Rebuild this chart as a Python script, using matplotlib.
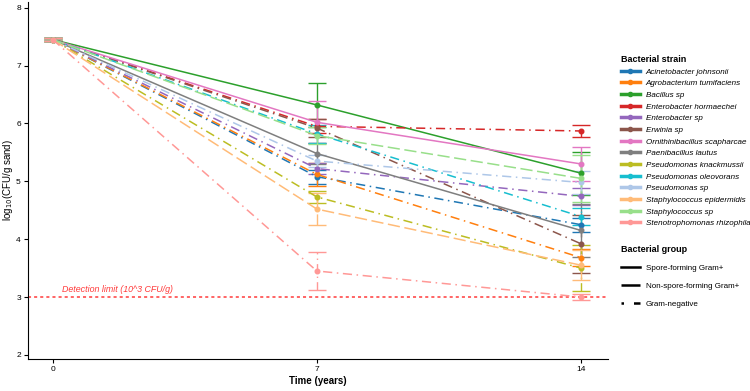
import numpy as np
import matplotlib.pyplot as plt
from matplotlib.lines import Line2D

plt.rcParams['font.family'] = ['Liberation Sans', 'DejaVu Sans']

# time points (years)
years = [0, 7, 14]

strains = ["Acinetobacter johnsonii", "Agrobacterium tumifaciens", "Bacillus sp",
           "Enterobacter hormaechei", "Enterobacter sp", "Erwinia sp",
           "Ornithinibacillus scapharcae", "Paenibacillus lautus",
           "Pseudomonas knackmussii", "Pseudomonas oleovorans", "Pseudomonas sp",
           "Staphylococcus epidermidis", "Staphylococcus sp", "Stenotrophomonas rhizophila"]

# bacterial group of each strain
groups = ["neg", "neg", "spore", "neg", "neg", "neg", "spore", "spore",
          "neg", "neg", "neg", "nonspore", "nonspore", "neg"]

# mean log10 CFU/g sand at 0, 7, 14 years
mean_0 = [7.45] * 14
mean_7 = [5.08, 5.12, 6.32, 5.95, 5.22, 5.92, 6.02, 5.48, 4.73, 5.82, 5.35, 4.52, 5.79, 3.45]
mean_14 = [4.25, 3.68, 5.14, 5.87, 4.74, 3.92, 5.30, 4.15, 3.50, 4.39, 4.98, 3.55, 5.05, 3.00]

# standard deviations
sd_0 = [0.02] * 14
sd_7 = [0.12, 0.20, 0.38, 0.12, 0.10, 0.15, 0.36, 0.18, 0.10, 0.15, 0.10, 0.27, 0.15, 0.32]
sd_14 = [0.12, 0.15, 0.37, 0.10, 0.15, 0.50, 0.30, 0.45, 0.40, 0.15, 0.20, 0.26, 0.40, 0.05]

colors = ["#1f77b4", "#ff7f0e", "#2ca02c", "#d62728", "#9467bd", "#8c564b", "#e377c2",
          "#7f7f7f", "#bcbd22", "#17becf", "#aec7e8", "#ffbb78", "#98df8a", "#ff9896"]

group_order = ["spore", "nonspore", "neg"]
group_names = {"spore": "Spore-forming Gram+", "nonspore": "Non-spore-forming Gram+",
               "neg": "Gram-negative"}
group_styles = {"spore": "-", "nonspore": (0, (8, 3)), "neg": (0, (6, 3, 1, 3))}
legend_styles = {"spore": "-", "nonspore": (0, (8, 3)), "neg": (0, (1, 4, 8, 3))}

fig = plt.figure(figsize=(7.5, 3.91), dpi=100)
ax = fig.add_axes([0.037, 0.082, 0.773, 0.913])

for i, name in enumerate(strains):
    y = [mean_0[i], mean_7[i], mean_14[i]]
    err = [sd_0[i], sd_7[i], sd_14[i]]
    ls = group_styles[groups[i]]
    ax.plot(years, y, color=colors[i], linestyle=ls, linewidth=1.1,
            marker="o", markersize=3.3, zorder=3)
    eb = ax.errorbar(years, y, yerr=err, fmt="none", ecolor=colors[i],
                     elinewidth=1.0, capsize=6.5, capthick=1.0, zorder=2)
    eb[2][0].set_linestyle(ls)

# detection limit
ax.axhline(3, color="#ff3b3b", linestyle=(0, (2, 2)), linewidth=1.1, zorder=1)
ax.text(0.25, 3.05, "Detection limit (10^3 CFU/g)", color="#ff3b3b",
        fontsize=6.4, style="italic", va="bottom")

ax.set_xlim(-0.66, 14.7)
ax.set_ylim(1.93, 8.1)
ax.set_xticks(years)
ax.set_yticks([2, 3, 4, 5, 6, 7, 8])
ax.tick_params(labelsize=6, length=3, width=0.8, pad=2)
ax.spines["top"].set_visible(False)
ax.spines["right"].set_visible(False)
ax.set_xlabel("Time (years)", fontsize=7, fontweight="bold", labelpad=2)
ax.set_ylabel("log$_{10}$(CFU/g sand)", fontsize=7, labelpad=1)

# legends
strain_handles = [Line2D([], [], color=c, linewidth=2.5, marker="o", markersize=3)
                  for c in colors]
leg1 = fig.legend(strain_handles, strains, loc="upper left",
                  bbox_to_anchor=(0.824, 0.868), frameon=False,
                  title="Bacterial strain", title_fontsize=6.5,
                  handlelength=2.3, handletextpad=0.75, labelspacing=0.5,
                  alignment="left", borderaxespad=0,
                  prop={"style": "italic", "size": 5.8})
leg1.get_title().set_fontweight("bold")

group_handles = [Line2D([], [], color="black", linewidth=1.8, linestyle=legend_styles[g])
                 for g in group_order]
leg2 = fig.legend(group_handles, [group_names[g] for g in group_order],
                  loc="upper left", bbox_to_anchor=(0.824, 0.382), frameon=False,
                  title="Bacterial group", fontsize=5.8, title_fontsize=6.5,
                  handlelength=2.3, handletextpad=0.75, labelspacing=1.3,
                  alignment="left", borderaxespad=0)
leg2.get_title().set_fontweight("bold")

fig.savefig("out.png", dpi=100)
